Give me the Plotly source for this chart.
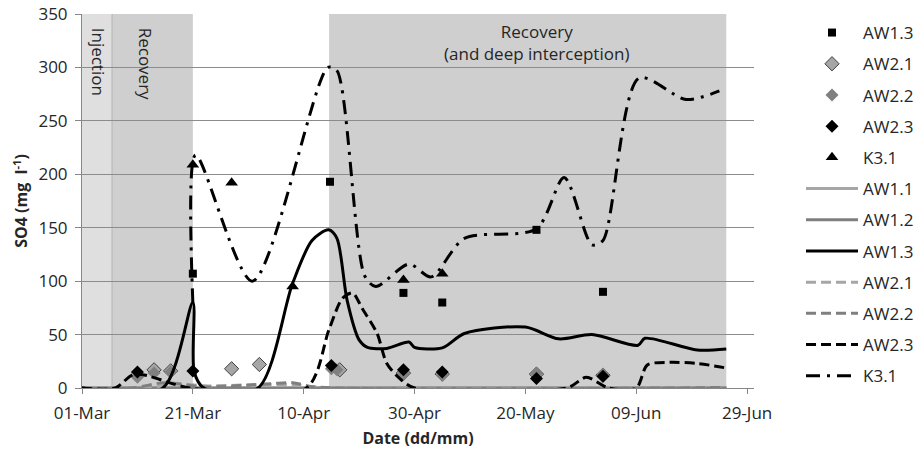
import plotly.graph_objects as go

# ---------------- data ----------------
# phase periods (shaded background)
phase_names = ["Injection", "Recovery", "Recovery<br>(and deep interception)"]
phase_start = ["2010-03-01 00:00", "2010-03-06 10:00", "2010-04-14 14:00"]
phase_end = ["2010-03-06 10:00", "2010-03-21 00:00", "2010-06-25 06:00"]

# sampled values (markers)
aw13_pts_x = ["2010-03-21", "2010-04-14 18:00", "2010-04-28", "2010-05-05", "2010-05-22", "2010-06-03"]
aw13_pts_y = [107, 193, 89, 80, 148, 90]

aw21_pts_x = ["2010-03-14", "2010-03-17", "2010-03-28", "2010-04-02", "2010-04-16 12:00",
              "2010-04-28", "2010-05-05", "2010-05-22", "2010-06-03"]
aw21_pts_y = [17, 16, 18, 22, 17, 14, 13, 13, 12]

aw22_pts_x = ["2010-03-11", "2010-03-14", "2010-03-17", "2010-04-15", "2010-04-16",
              "2010-04-28", "2010-05-05", "2010-05-22", "2010-06-03"]
aw22_pts_y = [10, 14, 15, 18, 17, 13, 12, 14, 13]

aw23_pts_x = ["2010-03-11", "2010-03-21", "2010-04-15", "2010-04-28", "2010-05-05", "2010-05-22", "2010-06-03"]
aw23_pts_y = [15, 16, 21, 17, 15, 9, 11]

k31_pts_x = ["2010-03-21", "2010-03-28", "2010-04-08", "2010-04-16", "2010-04-28", "2010-05-05"]
k31_pts_y = [209, 192, 95, 17, 101, 107]

# continuous series (lines)
aw11_x = ["2010-03-01", "2010-06-25 06:00"]
aw11_y = [0, 0]

aw12_x = ["2010-03-01", "2010-06-25 06:00"]
aw12_y = [0, 0]

aw13_x = ["2010-03-01", "2010-03-15 14:00", "2010-03-21 00:00", "2010-03-21 06:00", "2010-03-23",
          "2010-04-01 18:00", "2010-04-08", "2010-04-11 12:00", "2010-04-14 12:00", "2010-04-16",
          "2010-04-17 20:00", "2010-04-20", "2010-04-21 12:00", "2010-04-25", "2010-04-29",
          "2010-04-30", "2010-05-05", "2010-05-09", "2010-05-20", "2010-05-26", "2010-06-01",
          "2010-06-09 08:00", "2010-06-10 14:00", "2010-06-20", "2010-06-25 06:00"]
aw13_y = [0, 0, 80, 15, 0,
          0, 98, 138, 148, 140,
          82, 45, 38, 37, 43,
          38, 37.5, 51, 57, 46, 50,
          40, 46.5, 35.5, 36.5]

aw21_x = ["2010-03-01", "2010-03-13", "2010-03-18", "2010-03-23", "2010-04-01", "2010-04-08",
          "2010-04-13", "2010-06-25 06:00"]
aw21_y = [0, 0, 4, 2, 3, 3, 0.5, 0.5]

aw22_x = ["2010-03-01", "2010-03-10", "2010-03-16", "2010-03-23", "2010-04-04", "2010-04-08",
          "2010-04-12", "2010-06-25 06:00"]
aw22_y = [0, 0, 5, 1, 4, 5, 1, 0.5]

aw23_x = ["2010-03-01", "2010-03-07", "2010-03-10 12:00", "2010-03-20 12:00", "2010-04-10 12:00",
          "2010-04-14 14:00", "2010-04-17", "2010-04-18 20:00", "2010-04-20 12:00", "2010-04-23 06:00",
          "2010-04-25", "2010-04-27 12:00", "2010-04-30", "2010-05-27 12:00", "2010-05-31",
          "2010-06-04", "2010-06-09", "2010-06-11", "2010-06-15", "2010-06-20", "2010-06-25 06:00"]
aw23_y = [0, 0, 13, 0, 0,
          55, 84, 89, 75, 51,
          23, 8, 0, 0, 10,
          0, 0, 21.5, 24, 23, 18.7]

k31_x = ["2010-03-21 00:00", "2010-03-21 12:00", "2010-03-31 18:00", "2010-04-14 08:00", "2010-04-16",
         "2010-04-21", "2010-04-23", "2010-04-29", "2010-05-03", "2010-05-09", "2010-05-22",
         "2010-05-27", "2010-06-01", "2010-06-03", "2010-06-09 12:00", "2010-06-18", "2010-06-24"]
k31_y = [80, 218, 100, 300, 297,
         105, 95, 116, 104, 140, 149,
         197, 134, 138, 290, 270, 278]

tick_dates = ["2010-03-01", "2010-03-21", "2010-04-10", "2010-04-30", "2010-05-20", "2010-06-09", "2010-06-29"]

# ---------------- figure ----------------
FONT = "Open Sans"
TXT = "#262626"
W, H = 921, 449
fig = go.Figure()

# marker series (drawn first, under lines); K3.1 under the diamonds
marker_specs = [
    ("K3.1", k31_pts_x, k31_pts_y, dict(symbol="triangle-up", size=11, color="black"), 5),
    ("AW1.3", aw13_pts_x, aw13_pts_y, dict(symbol="square", size=8, color="black"), 1),
    ("AW2.1", aw21_pts_x, aw21_pts_y, dict(symbol="diamond", size=11, color="#a6a6a6",
                                          line=dict(color="#404040", width=1)), 2),
    ("AW2.2", aw22_pts_x, aw22_pts_y, dict(symbol="diamond", size=10, color="#808080"), 3),
    ("AW2.3", aw23_pts_x, aw23_pts_y, dict(symbol="diamond", size=10, color="black"), 4),
]
for name, xs, ys, mk, rank in marker_specs:
    fig.add_trace(go.Scatter(x=xs, y=ys, mode="markers", name=name, marker=mk,
                             legendrank=rank, legendgroup="m" + name))

line_specs = [
    ("AW1.1", aw11_x, aw11_y, "#a6a6a6", "solid", 6),
    ("AW1.2", aw12_x, aw12_y, "#7f7f7f", "solid", 7),
    ("AW2.1", aw21_x, aw21_y, "#a6a6a6", "10px,5px", 9),
    ("AW2.2", aw22_x, aw22_y, "#7f7f7f", "10px,5px", 10),
    ("AW2.3", aw23_x, aw23_y, "black", "10px,5px", 11),
    ("AW1.3", aw13_x, aw13_y, "black", "solid", 8),
    ("K3.1", k31_x, k31_y, "black", "14px,7px,3px,7px", 12),
]
for name, xs, ys, col, dash, rank in line_specs:
    fig.add_trace(go.Scatter(x=xs, y=ys, mode="lines", name=name,
                             line=dict(color=col, width=3, dash=dash, shape="spline", smoothing=0.8),
                             legendrank=rank, legendgroup="l" + name))

# phase shading
phase_colors = ["#dfdfdf", "#cfcfcf", "#cfcfcf"]
for s, e, c in zip(phase_start, phase_end, phase_colors):
    fig.add_shape(type="rect", xref="x", yref="paper", x0=s, x1=e, y0=0, y1=1,
                  fillcolor=c, line=dict(width=0), layer="below")
fig.add_shape(type="line", xref="x", yref="paper", x0=phase_end[0], x1=phase_end[0], y0=0, y1=1,
              line=dict(color="#b4b4b4", width=1), layer="below")

# phase labels
fig.add_annotation(x=phase_start[0], y=0.97, xref="x", yref="paper", text=phase_names[0],
                   textangle=90, showarrow=False, xanchor="left", yanchor="top", xshift=3,
                   font=dict(family=FONT, size=17, color=TXT))
fig.add_annotation(x=phase_start[1], y=0.97, xref="x", yref="paper", text=phase_names[1],
                   textangle=90, showarrow=False, xanchor="left", yanchor="top", xshift=20,
                   font=dict(family=FONT, size=17, color=TXT))
fig.add_annotation(x="2010-05-22", y=0.99, xref="x", yref="paper", text=phase_names[2],
                   showarrow=False, xanchor="center", yanchor="top",
                   font=dict(family=FONT, size=17, color=TXT))

fig.update_layout(
    width=W, height=H,
    margin=dict(l=82, r=167, t=14, b=61, autoexpand=False),
    plot_bgcolor="white", paper_bgcolor="white",
    font=dict(family=FONT, size=17, color=TXT),
    showlegend=True, hovermode=False,
    legend=dict(xref="container", yref="container", x=801 / W, y=1 - 15 / H,
                xanchor="left", yanchor="top", tracegroupgap=6.1, maxheight=H,
                font=dict(family=FONT, size=17, color=TXT), itemwidth=52,
                bgcolor="rgba(0,0,0,0)"),
    xaxis=dict(range=["2010-03-01", "2010-06-30 06:00"], tickvals=tick_dates, tickformat="%d-%b",
               showgrid=False, showline=True, linecolor="#868686", linewidth=1,
               ticks="outside", ticklen=5, tickcolor="#868686", automargin=False,
               ticklabelstandoff=5, ticklabeloverflow="allow",
               title=dict(text="<b>Date (dd/mm)</b>", font=dict(family=FONT, size=16, color=TXT), standoff=9),
               tickfont=dict(family=FONT, size=17, color=TXT)),
    yaxis=dict(range=[0, 350], dtick=50, showgrid=True, gridcolor="#8c8c8c", gridwidth=1,
               showline=True, linecolor="#868686", linewidth=1, ticks="outside", ticklen=6,
               tickcolor="#868686", zeroline=False, automargin=False, ticklabelstandoff=4,
               ticklabeloverflow="allow",
               title=dict(text="<b>SO4 (mg  l<sup>-1</sup>)</b>", font=dict(family=FONT, size=16, color=TXT), standoff=6),
               tickfont=dict(family=FONT, size=17, color=TXT)),
)

fig.write_html("out.html", config={"displayModeBar": False},
               post_script="document.body.style.margin='0px';")
